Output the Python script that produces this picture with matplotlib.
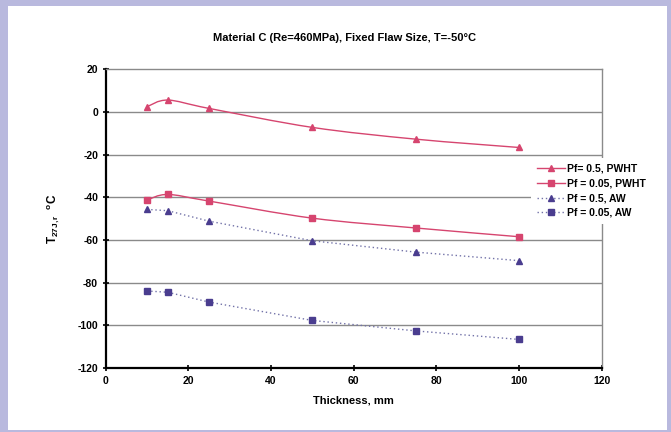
import matplotlib
matplotlib.use("Agg")
import matplotlib.pyplot as plt
from matplotlib.path import Path
from matplotlib.patches import PathPatch, Rectangle
from matplotlib.lines import Line2D
import numpy as np

plt.rcParams['font.family'] = ['Liberation Sans', 'DejaVu Sans']
plt.rcParams['font.weight'] = 'bold'
plt.rcParams['axes.unicode_minus'] = False
plt.rcParams['mathtext.fontset'] = 'custom'
plt.rcParams['mathtext.rm'] = 'Liberation Sans:bold'
plt.rcParams['mathtext.it'] = 'Liberation Sans:bold'
plt.rcParams['mathtext.bf'] = 'Liberation Sans:bold'

# dados
espessura = [10, 15, 25, 50, 75, 100]
pf05_pwht = [2.4, 5.5, 1.6, -7.3, -12.8, -16.7]
pf005_pwht = [-41.3, -38.7, -41.8, -49.8, -54.4, -58.5]
pf05_aw = [-45.7, -46.3, -51.2, -60.4, -65.7, -69.7]
pf005_aw = [-83.9, -84.5, -89.1, -97.7, -102.6, -106.6]

rotulos = ["Pf= 0.5, PWHT", "Pf = 0.05, PWHT", "Pf = 0.5, AW", "Pf = 0.05, AW"]
x_ticks = [0, 20, 40, 60, 80, 100, 120]
y_ticks = [20, 0, -20, -40, -60, -80, -100, -120]

rosa = "#d6456f"
roxo = "#4a3d8f"
roxo_linha = "#7272a8"


def curva_suave(xs, ys):
    # bezier tipo Excel (catmull-rom)
    pts = np.column_stack([xs, ys])
    verts = [tuple(pts[0])]
    codes = [Path.MOVETO]
    n = len(pts)
    for i in range(n - 1):
        p0 = pts[i - 1] if i > 0 else pts[i]
        p1 = pts[i]
        p2 = pts[i + 1]
        p3 = pts[i + 2] if i + 2 < n else pts[i + 1]
        c1 = p1 + (p2 - p0) / 6
        c2 = p2 - (p3 - p1) / 6
        verts += [tuple(c1), tuple(c2), tuple(p2)]
        codes += [Path.CURVE4] * 3
    return Path(verts, codes)


fig = plt.figure(figsize=(6.71, 4.32), dpi=100)
fig.patch.set_facecolor("#b9b9de")
fig.patches.append(Rectangle((8 / 671, 0.004), 1 - 12 / 671, 1 - 6 / 432 - 0.004,
                             transform=fig.transFigure, facecolor="white",
                             edgecolor="none", zorder=-1))

ax = fig.add_axes([0.1575, 0.148, 0.7395, 0.692])
ax.set_facecolor("white")

for y in y_ticks[1:-1]:
    ax.axhline(y, color="#8a8a8a", linewidth=1.0, zorder=1)

# linhas PWHT suavizadas
for serie in (pf05_pwht, pf005_pwht):
    ax.add_patch(PathPatch(curva_suave(espessura, serie), facecolor="none",
                           edgecolor=rosa, linewidth=1.0, zorder=3))

ax.plot(espessura, pf05_pwht, ls="none", marker="^", ms=4.5, color=rosa, zorder=4)
ax.plot(espessura, pf005_pwht, ls="none", marker="s", ms=5, color=rosa, zorder=4)
ax.plot(espessura, pf05_aw, ls=(0, (1, 2)), lw=1.0, color=roxo_linha, zorder=3)
ax.plot(espessura, pf05_aw, ls="none", marker="^", ms=4.5, color=roxo, zorder=4)
ax.plot(espessura, pf005_aw, ls=(0, (1, 2)), lw=1.0, color=roxo_linha, zorder=3)
ax.plot(espessura, pf005_aw, ls="none", marker="s", ms=5, color=roxo, zorder=4)

ax.set_xlim(0, 120)
ax.set_ylim(-120, 20)
ax.set_xticks(x_ticks)
ax.set_yticks(y_ticks)
ax.tick_params(direction="inout", length=5, width=1.2, labelsize=7.5, pad=3)

for lado in ("left", "bottom"):
    ax.spines[lado].set_color("black")
    ax.spines[lado].set_linewidth(1.6)
for lado in ("top", "right"):
    ax.spines[lado].set_color("#8a8a8a")
    ax.spines[lado].set_linewidth(1.0)

ax.set_xlabel("Thickness, mm", fontsize=8, fontweight="bold", labelpad=7)
ax.set_ylabel(r"T$_{27J,r}$  $^{\mathrm{o}}$C", fontsize=8.5, fontweight="bold", labelpad=11)
fig.text(0.513, 0.912, "Material C (Re=460MPa), Fixed Flaw Size, T=-50°C",
         ha="center", va="center", fontsize=8, fontweight="bold")

handles = [
    Line2D([], [], color=rosa, lw=1.0, marker="^", ms=4.5),
    Line2D([], [], color=rosa, lw=1.0, marker="s", ms=5),
    Line2D([], [], color=roxo_linha, lw=1.0, ls=(0, (1, 2)), marker="^", ms=4.5,
           markerfacecolor=roxo, markeredgecolor=roxo),
    Line2D([], [], color=roxo_linha, lw=1.0, ls=(0, (1, 2)), marker="s", ms=5,
           markerfacecolor=roxo, markeredgecolor=roxo),
]
leg = fig.legend(handles, rotulos, loc="upper left", bbox_to_anchor=(0.791, 0.635),
                 fontsize=7.5, frameon=True, facecolor="white", edgecolor="none",
                 framealpha=1, handlelength=2.7, handletextpad=0.2,
                 labelspacing=0.45, borderpad=0.6, borderaxespad=0)
leg.set_zorder(5)

fig.savefig("out.png", dpi=100, facecolor=fig.get_facecolor())
